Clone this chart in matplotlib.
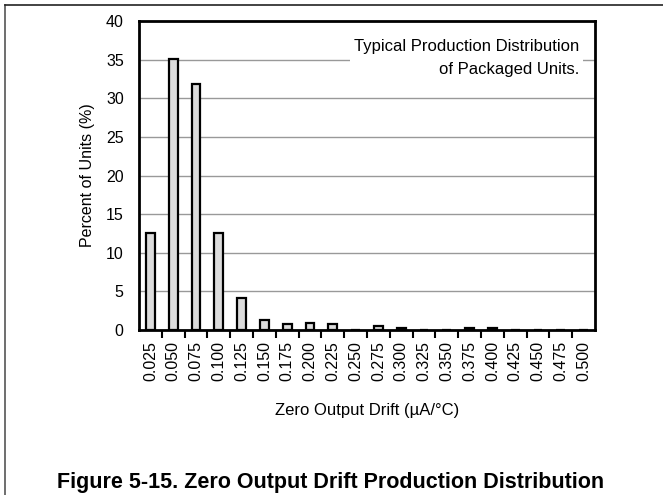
import matplotlib
matplotlib.use("Agg")
import matplotlib.pyplot as plt
from matplotlib.lines import Line2D
import numpy as np

plt.rcParams['font.family'] = ['Liberation Sans', 'DejaVu Sans']

categories = ["0.025", "0.050", "0.075", "0.100", "0.125", "0.150", "0.175", "0.200",
              "0.225", "0.250", "0.275", "0.300", "0.325", "0.350", "0.375", "0.400",
              "0.425", "0.450", "0.475", "0.500"]
percent = [12.5, 35.1, 31.9, 12.6, 4.1, 1.3, 0.8, 0.9,
           0.8, 0.0, 0.5, 0.3, 0.0, 0.0, 0.3, 0.3,
           0.0, 0.0, 0.0, 0.0]
y_ticks = [0, 5, 10, 15, 20, 25, 30, 35, 40]

W, H = 663, 495
fig = plt.figure(figsize=(W / 100, H / 100), dpi=100)
ax = fig.add_axes([139 / W, 1 - 330 / H, (595 - 139) / W, (330 - 21) / H])

x = np.arange(len(categories))
ax.bar(x, percent, width=0.38, color="#dcdcdc", edgecolor="black", linewidth=1.6, zorder=3)

ax.set_xlim(-0.5, len(categories) - 0.5)
ax.set_ylim(0, 40)
ax.set_yticks(y_ticks)
ax.tick_params(axis='y', length=0, pad=11, labelsize=11.5)
for v in y_ticks[1:-1]:
    ax.axhline(v, color="#999999", linewidth=1.0, zorder=1)

ax.set_xticks(x)
ax.set_xticklabels(categories, rotation=90, fontsize=11.5)
ax.tick_params(axis='x', which='major', length=0, pad=8)
ax.set_xticks(np.arange(0.5, len(categories) - 1, 1.0), minor=True)
ax.tick_params(axis='x', which='minor', length=6, width=1.5, direction='out')

for s in ax.spines.values():
    s.set_linewidth(2.0)
    s.set_zorder(4)

ax.set_ylabel("Percent of Units (%)", fontsize=11.5, labelpad=8)
ax.set_xlabel("Zero Output Drift (\u00b5A/\u00b0C)", fontsize=12, labelpad=16)

ax.text(0.965, 0.88, "Typical Production Distribution\nof Packaged Units.",
        transform=ax.transAxes, ha='right', va='center', fontsize=12,
        linespacing=1.65, zorder=5,
        bbox=dict(facecolor='white', edgecolor='none', pad=3))

# page frame lines
fig.add_artist(Line2D([5 / W, 5 / W], [0, 1 - 5 / H], transform=fig.transFigure,
                      color="#555555", linewidth=1.2))
fig.add_artist(Line2D([5 / W, 1], [1 - 5 / H, 1 - 5 / H], transform=fig.transFigure,
                      color="#222222", linewidth=1.2))

fig.text(331 / W, 2 / H, "Figure 5-15. Zero Output Drift Production Distribution",
         ha='center', va='bottom', fontsize=15.5, fontweight='bold')

fig.savefig("out.png", dpi=100)
